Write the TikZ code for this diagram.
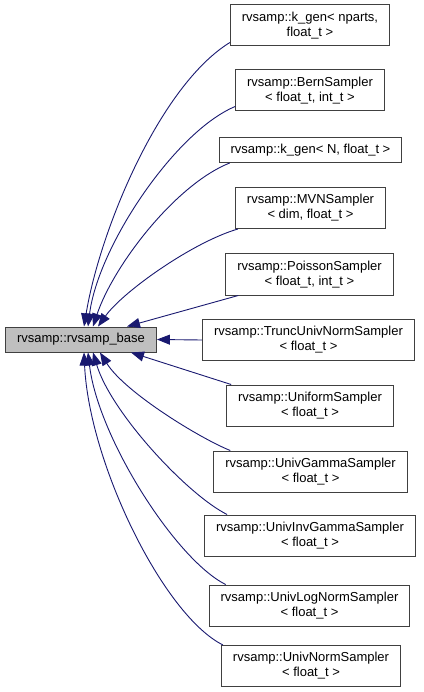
\documentclass[tikz,border=0pt]{standalone}
\usepackage{fontspec}
\setmainfont{Liberation Sans}
\usepackage{tikz}
\usetikzlibrary{arrows.meta}

\definecolor{edgeblue}{HTML}{191970}
\definecolor{boxline}{HTML}{404040}

\begin{document}
\begin{tikzpicture}[x=1pt, y=-1pt,
    cls/.style={draw=boxline, line width=1pt, fill=white, inner xsep=11.5pt, inner ysep=0pt,
      minimum height=41pt, align=center, font=\fontsize{13}{15}\selectfont},
    basecls/.style={cls, fill=gray!50, minimum height=25pt},
    onecls/.style={cls, minimum height=25pt},
    edge/.style={edgeblue, line width=0.9pt, {Triangle[length=13pt, width=10pt]}-}]
  \useasboundingbox (0,0) rectangle (423,692);
  % base class
  \node[basecls] (base) at (81,339.5) {rvsamp::rvsamp\_base};
  % derived classes
  \node[cls] (kgennp) at (310,25.5) {rvsamp::k\_gen< nparts,\\ float\_t >};
  \node[cls] (bern) at (310,90.5) {rvsamp::BernSampler\\ < float\_t, int\_t >};
  \node[onecls] (kgenn) at (310.5,150) {rvsamp::k\_gen< N, float\_t >};
  \node[cls] (mvn) at (310.5,208) {rvsamp::MVNSampler\\ < dim, float\_t >};
  \node[cls] (poisson) at (309.5,274.5) {rvsamp::PoissonSampler\\ < float\_t, int\_t >};
  \node[cls] (trunc) at (308.5,340) {rvsamp::TruncUnivNormSampler\\ < float\_t >};
  \node[cls] (uniform) at (310,405.5) {rvsamp::UniformSampler\\ < float\_t >};
  \node[cls] (gamma) at (310.5,471.5) {rvsamp::UnivGammaSampler\\ < float\_t >};
  \node[cls] (invgamma) at (310,535.5) {rvsamp::UnivInvGammaSampler\\ < float\_t >};
  \node[cls] (lognorm) at (309.5,605.5) {rvsamp::UnivLogNormSampler\\ < float\_t >};
  \node[cls] (norm) at (311,666) {rvsamp::UnivNormSampler\\ < float\_t >};
  % inheritance edges, arrow tips on the base
  \draw[edge] ([xshift=3pt]base.north) .. controls +(16,-97) and +(-70,43) .. ([yshift=4pt]kgennp.south west);
  \draw[edge] ([xshift=7pt]base.north) .. controls +(10,-80) and +(-60,25) .. ([yshift=5pt]bern.south west);
  \draw[edge] ([xshift=12pt]base.north) .. controls +(20,-60) and +(-55,22) .. ([xshift=11pt]kgenn.south west);
  \draw[edge] ([xshift=17pt]base.north) .. controls +(25,-35) and +(-45,13) .. ([xshift=3pt]mvn.south west);
  \draw[edge] ([xshift=46pt]base.north) -- ([xshift=13pt]poisson.south west);
  \draw[edge] (base.east) -- (trunc.west);
  \draw[edge] ([xshift=50pt]base.south) -- ([xshift=5pt]uniform.north west);
  \draw[edge] ([xshift=19pt]base.south) .. controls +(25,40) and +(-30,-12) .. ([xshift=17pt]gamma.north west);
  \draw[edge] ([xshift=12pt]base.south) .. controls +(18,60) and +(-40,-20) .. ([xshift=23pt]invgamma.north west);
  \draw[edge] ([xshift=7pt]base.south) .. controls +(10,85) and +(-50,-25) .. ([xshift=17pt]lognorm.north west);
  \draw[edge] ([xshift=3pt]base.south) .. controls +(5,110) and +(-60,-30) .. ([xshift=2pt]norm.north west);
\end{tikzpicture}
\end{document}
